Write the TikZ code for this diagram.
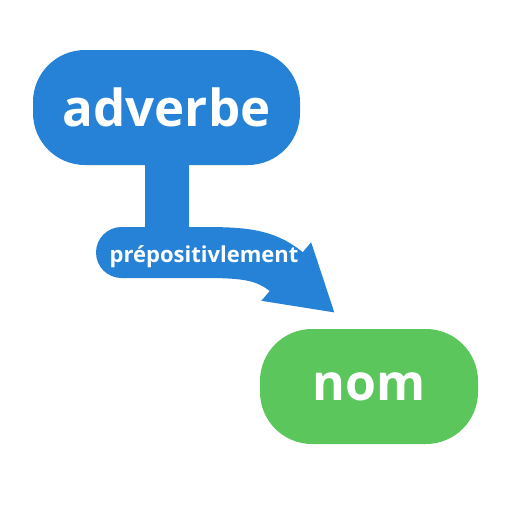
\documentclass[tikz,border=0pt]{standalone}
\usepackage{fontspec}
\setmainfont{Open Sans}
\usetikzlibrary{arrows.meta}
\definecolor{advblue}{RGB}{38,130,214}
\definecolor{nomgreen}{RGB}{90,198,92}

\begin{document}
\begin{tikzpicture}[x=1pt,y=-1pt,
		pill/.style={rounded corners=52pt, text=white, inner sep=0pt, minimum height=115pt},
		band/.style={draw=advblue, line width=51pt}]
	\useasboundingbox (0,0) rectangle (512,512);
	% boxes
	\node[pill, fill=advblue, minimum width=267pt, font=\fontsize{51}{51}\selectfont\bfseries] (adverbe) at (166.5,107.5) {adverbe};
	\node[pill, fill=nomgreen, minimum width=218pt, font=\fontsize{50}{50}\selectfont\bfseries] (nom) at (369,386.5) {nom};
	% connector
	\coordinate (start) at (121.5,252.5);
	\coordinate (bend) at (205,252.5);
	\coordinate (tip) at (335,313);
	\draw[draw=advblue, line width=44pt] (adverbe.south) -- (adverbe.south |- start);
	\draw[band, line cap=round, -{Triangle[length=64pt,width=72pt]}] (start) -- (bend) .. controls (250,252.5) and (268,256) .. (tip);
	\node[text=white, anchor=base, font=\fontsize{22}{22}\selectfont\bfseries] (prep) at (204,262) {prépositivlement};
\end{tikzpicture}
\end{document}
